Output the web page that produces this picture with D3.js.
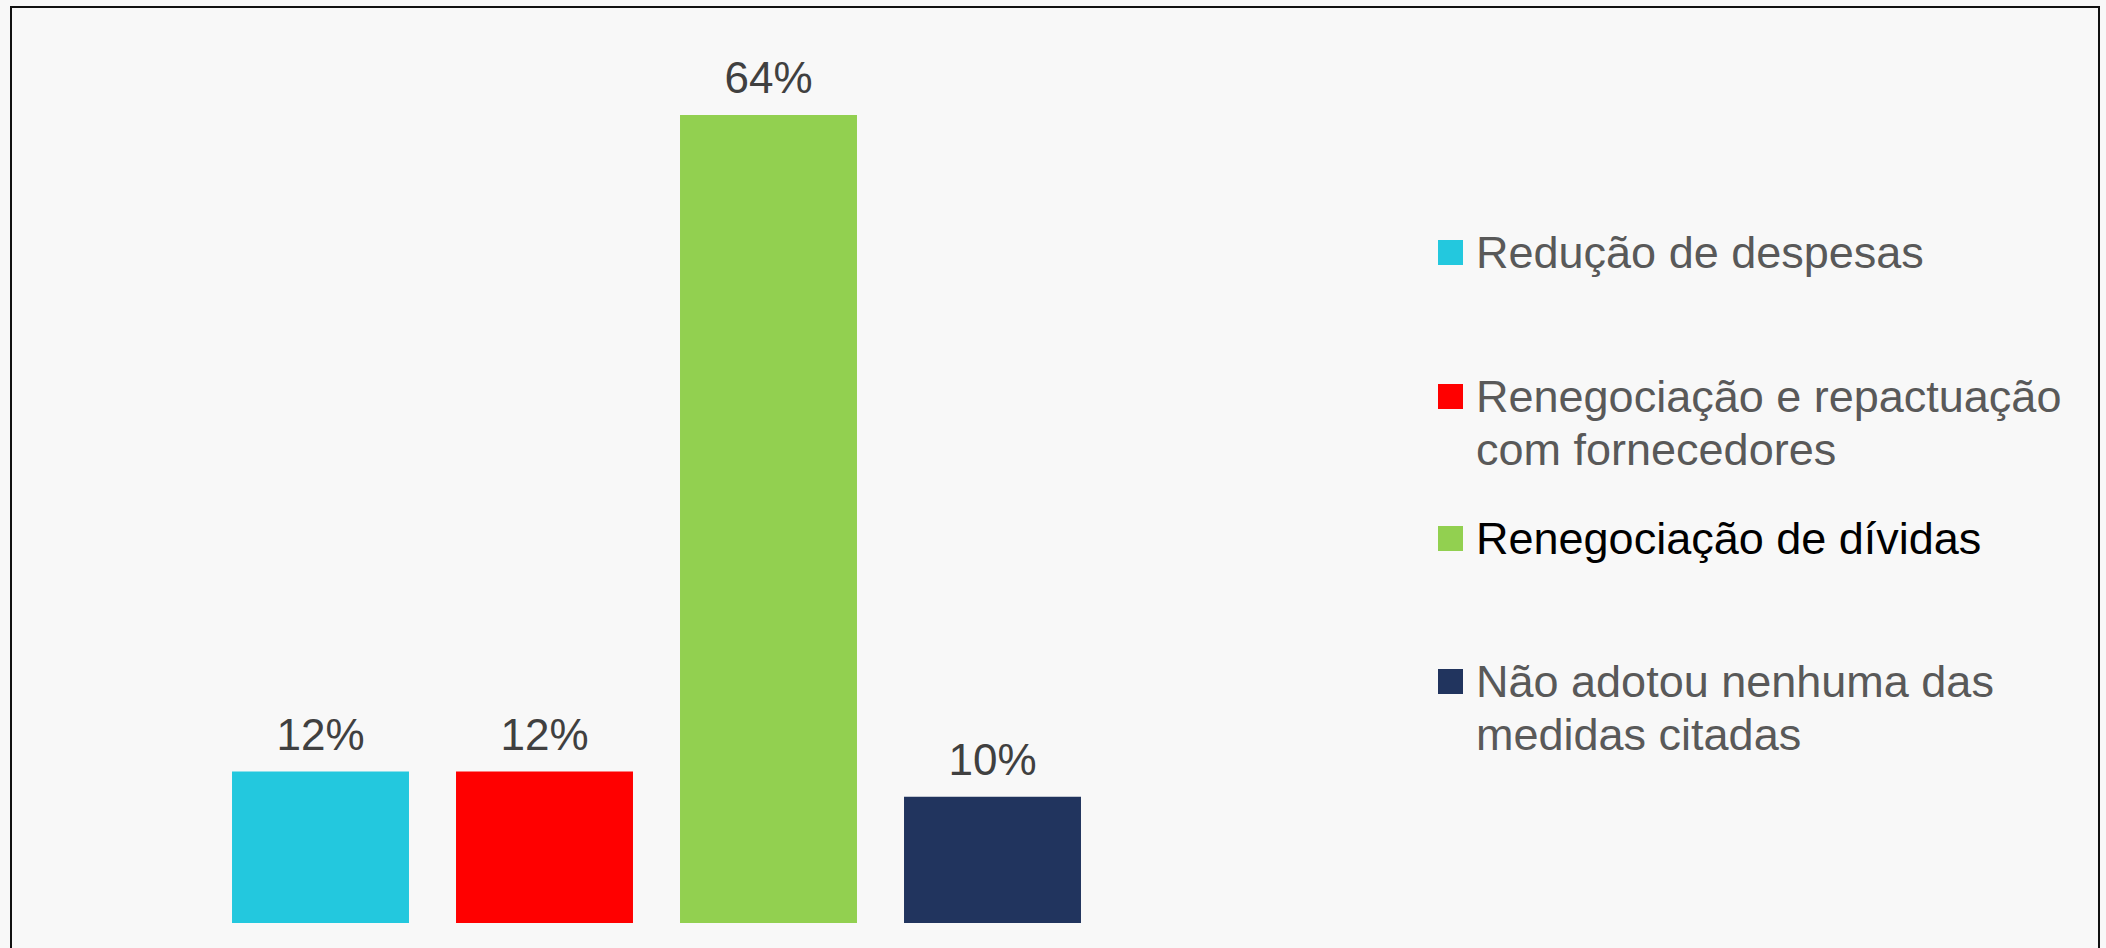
<!DOCTYPE html>
<html>
<head>
<meta charset="utf-8">
<script src="https://cdn.jsdelivr.net/npm/d3@7"></script>
<style>
  html, body { margin: 0; padding: 0; background: #f8f8f8; }
  svg { display: block; }
  text { font-family: "Liberation Sans", Arial, sans-serif; }
</style>
</head>
<body>
<svg id="chart" width="2106" height="948"></svg>
<script>
const categories = [
  "Redução de despesas",
  "Renegociação e repactuação com fornecedores",
  "Renegociação de dívidas",
  "Não adotou nenhuma das medidas citadas"
];
const values = [12, 12, 64, 10];
const colors = ["#23c8de", "#ff0000", "#92d050", "#21345e"];
const legendLines = [
  ["Redução de despesas"],
  ["Renegociação e repactuação", "com fornecedores"],
  ["Renegociação de dívidas"],
  ["Não adotou nenhuma das", "medidas citadas"]
];
const legendTextColors = ["#595959", "#595959", "#000000", "#595959"];

const svg = d3.select("#chart");

svg.append("rect")
  .attr("x", 0).attr("y", 0).attr("width", 2106).attr("height", 948)
  .attr("fill", "#f8f8f8");

svg.append("rect")
  .attr("x", 11).attr("y", 7).attr("width", 2088).attr("height", 980)
  .attr("fill", "#f8f8f8").attr("stroke", "#111").attr("stroke-width", 2);

const x = d3.scaleBand()
  .domain(categories)
  .range([208.5, 1104.5])
  .paddingInner(0.21)
  .paddingOuter(0.105);

const y = d3.scaleLinear()
  .domain([0, 70])
  .range([923, 923 - 70 * 12.625]);

const data = categories.map((c, i) => ({ cat: c, value: values[i], color: colors[i] }));

svg.append("g").selectAll("rect")
  .data(data)
  .join("rect")
  .attr("x", d => x(d.cat))
  .attr("y", d => y(d.value))
  .attr("width", x.bandwidth())
  .attr("height", d => y(0) - y(d.value))
  .attr("fill", d => d.color);

svg.append("g").selectAll("text")
  .data(data)
  .join("text")
  .attr("x", d => x(d.cat) + x.bandwidth() / 2)
  .attr("y", d => y(d.value) - 22)
  .attr("text-anchor", "middle")
  .attr("font-size", 44)
  .attr("fill", "#404040")
  .text(d => d.value + "%");

// Legend
const legendBaselines = [268, 412, 554, 697];
const lineGap = 53;
const legend = svg.append("g");
data.forEach((d, i) => {
  const base = legendBaselines[i];
  legend.append("rect")
    .attr("x", 1438).attr("y", base - 28)
    .attr("width", 25).attr("height", 25)
    .attr("fill", d.color);
  const t = legend.append("text")
    .attr("x", 1476).attr("y", base)
    .attr("font-size", 45)
    .attr("fill", legendTextColors[i]);
  legendLines[i].forEach((ln, j) => {
    t.append("tspan")
      .attr("x", 1476)
      .attr("y", base + j * lineGap)
      .text(ln);
  });
});
</script>
</body>
</html>
